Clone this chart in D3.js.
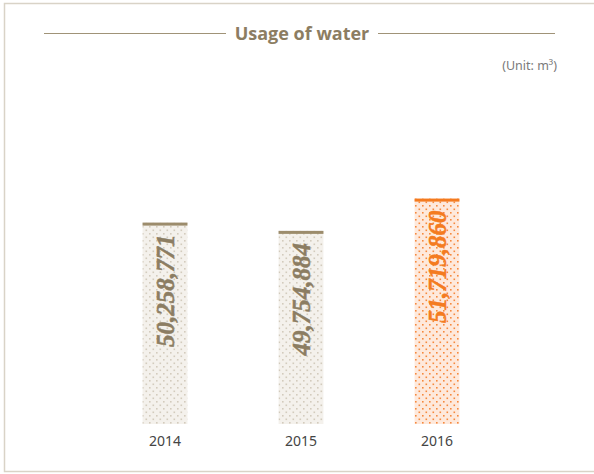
<!DOCTYPE html>
<html>
<head>
<meta charset="utf-8">
<script src="https://cdn.jsdelivr.net/npm/d3@7"></script>
<style>
  body { margin: 0; background: #fff; }
  svg { display: block; }
  .val { font-family: "Times New Roman", "Liberation Serif", Times, serif; font-weight: bold; font-style: italic; }
</style>
</head>
<body>
<svg width="594" height="474"></svg>
<script>
// data
const years = ["2014", "2015", "2016"];
const usage = [50258771, 49754884, 51719860];
const highlight = [false, false, true];

const svg = d3.select("svg");

// frame (left, top, bottom)
svg.append("path")
  .attr("d", "M594,3.5 H4.5 V471.5 H594")
  .attr("fill", "none")
  .attr("stroke", "#d9d3c7")
  .attr("stroke-width", 1.5);

// patterns
const defs = svg.append("defs");
function dots(id, bg, dot) {
  const p = defs.append("pattern")
    .attr("id", id)
    .attr("patternUnits", "userSpaceOnUse")
    .attr("width", 7).attr("height", 7)
    .attr("x", 1).attr("y", 1);
  p.append("rect").attr("width", 7).attr("height", 7).attr("fill", bg);
  p.append("rect").attr("x", 1).attr("y", 1).attr("width", 1.6).attr("height", 1.6).attr("fill", dot);
  p.append("rect").attr("x", 4.5).attr("y", 4.5).attr("width", 1.6).attr("height", 1.6).attr("fill", dot);
}
dots("dotGray", "#f4f1ec", "#d3cbbd");
dots("dotOrange", "#fee9dc", "#f68a3e");

// title
const title = svg.append("g");
title.append("line").attr("x1", 44).attr("x2", 226).attr("y1", 33.5).attr("y2", 33.5)
  .attr("stroke", "#a09378").attr("stroke-width", 1.2);
title.append("line").attr("x1", 378).attr("x2", 555).attr("y1", 33.5).attr("y2", 33.5)
  .attr("stroke", "#a09378").attr("stroke-width", 1.2);
title.append("text")
  .attr("x", 302).attr("y", 40)
  .attr("text-anchor", "middle")
  .attr("font-family", "'Open Sans', 'Noto Sans', sans-serif")
  .attr("font-weight", "bold")
  .attr("font-size", 18)
  .attr("fill", "#8c7d62")
  .text("Usage of water");

svg.append("text")
  .attr("x", 557).attr("y", 70)
  .attr("text-anchor", "end")
  .attr("font-family", "'Noto Sans', 'Open Sans', sans-serif")
  .attr("font-size", 12.5)
  .attr("fill", "#7a7a7a")
  .text("(Unit: m³)");

// scales
const x = d3.scaleBand().domain(years).range([97, 505]).paddingInner(0.67).paddingOuter(0.335);
const y = d3.scaleLinear().domain([38000000, 52000000]).range([424, 194]);

const bars = svg.append("g").selectAll("g")
  .data(years.map((yr, i) => ({ yr, v: usage[i], hi: highlight[i] })))
  .join("g");

bars.append("rect")
  .attr("x", d => x(d.yr))
  .attr("y", d => y(d.v))
  .attr("width", x.bandwidth())
  .attr("height", d => y.range()[0] - y(d.v))
  .attr("fill", d => d.hi ? "url(#dotOrange)" : "url(#dotGray)");

bars.append("rect")
  .attr("x", d => x(d.yr))
  .attr("y", d => y(d.v))
  .attr("width", x.bandwidth())
  .attr("height", 3)
  .attr("fill", d => d.hi ? "#f47b20" : "#9c8c6c");

bars.append("text")
  .attr("class", "val")
  .attr("transform", d => `translate(${x(d.yr) + x.bandwidth() / 2 + 9},${y(d.v) + 12}) rotate(-90)`)
  .attr("text-anchor", "end")
  .attr("font-size", 25)
  .attr("fill", d => d.hi ? "#f47b20" : "#8c7d62")
  .attr("stroke", d => d.hi ? "#f47b20" : "#8c7d62")
  .attr("stroke-width", 0.5)
  .text(d => d3.format(",")(d.v));

// x axis labels
svg.append("g").selectAll("text")
  .data(years)
  .join("text")
  .attr("x", d => x(d) + x.bandwidth() / 2)
  .attr("y", 446)
  .attr("text-anchor", "middle")
  .attr("font-family", "'Noto Sans', 'Open Sans', sans-serif")
  .attr("font-size", 14)
  .attr("fill", "#444")
  .text(d => d);
</script>
</body>
</html>
